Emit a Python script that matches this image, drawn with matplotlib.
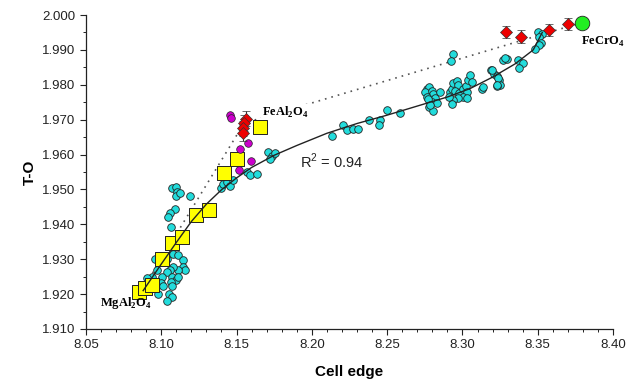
import matplotlib
matplotlib.use("Agg")
import matplotlib.pyplot as plt
from matplotlib.ticker import MultipleLocator, FormatStrFormatter

# cyan circles (natural spinels)
cyan_x = [8.1069, 8.1098, 8.1107, 8.1098, 8.1125, 8.1191,
          8.1092, 8.1058, 8.1047, 8.1063,
          8.0959, 8.1036, 8.1076, 8.1114, 8.1142, 8.1142, 8.1158, 8.1114,
          8.1080, 8.1058, 8.1036, 8.1003, 8.1069, 8.1098, 8.1114, 8.1063,
          8.0970, 8.0937, 8.0908, 8.0948, 8.0921, 8.0996, 8.1014, 8.1069,
          8.0981, 8.1054, 8.1069, 8.1041,
          8.1395, 8.1412, 8.1435, 8.1457, 8.1479, 8.1567, 8.1589, 8.1634,
          8.1711, 8.1733, 8.1756, 8.1722,
          8.2136, 8.2205, 8.2231, 8.2271, 8.2309, 8.2382, 8.2453, 8.2444,
          8.2501, 8.2583,
          8.2762, 8.2780, 8.2751, 8.2795, 8.2806, 8.2817, 8.2795, 8.2780,
          8.2806, 8.2829, 8.2851, 8.2917, 8.2928, 8.2939, 8.2961, 8.2972,
          8.2950, 8.2979, 8.3001, 8.3023, 8.3028, 8.3006, 8.2972, 8.2939,
          8.2913, 8.2928, 8.3039, 8.3050, 8.3061, 8.3028, 8.3127, 8.3187,
          8.3209, 8.3227, 8.3240, 8.3249, 8.3227, 8.3271, 8.3298, 8.2939,
          8.2924, 8.2762, 8.2773, 8.2784,
          8.3504, 8.3526, 8.3511, 8.3519, 8.3511, 8.3482, 8.3371, 8.3404,
          8.3378, 8.3283, 8.3194, 8.3238, 8.3232, 8.3134]
cyan_y = [1.9503, 1.9506, 1.9494, 1.9481, 1.9489, 1.9480,
          1.9443, 1.9432, 1.9422, 1.9392,
          1.9300, 1.9300, 1.9315, 1.9312, 1.9298, 1.9279, 1.9269, 1.9269,
          1.9279, 1.9269, 1.9262, 1.9250, 1.9250, 1.9241, 1.9250, 1.9236,
          1.9269, 1.9250, 1.9246, 1.9233, 1.9226, 1.9231, 1.9222, 1.9222,
          1.9201, 1.9201, 1.9193, 1.9179,
          1.9505, 1.9515, 1.9522, 1.9509, 1.9526, 1.9550, 1.9541, 1.9544,
          1.9608, 1.9595, 1.9605, 1.9586,
          1.9653, 1.9685, 1.9669, 1.9673, 1.9673, 1.9699, 1.9699, 1.9685,
          1.9728, 1.9718,
          1.9789, 1.9794, 1.9780, 1.9783, 1.9773, 1.9761, 1.9751, 1.9735,
          1.9725, 1.9748, 1.9780, 1.9780, 1.9789, 1.9804, 1.9811, 1.9799,
          1.9783, 1.9777, 1.9789, 1.9796, 1.9780, 1.9765, 1.9761, 1.9756,
          1.9765, 1.9746, 1.9813, 1.9827, 1.9808, 1.9761, 1.9789, 1.9842,
          1.9832, 1.9825, 1.9813, 1.9799, 1.9796, 1.9870, 1.9875, 1.9888,
          1.9868, 1.9766, 1.9758, 1.9742,
          1.9952, 1.9947, 1.9936, 1.9921, 1.9914, 1.9902, 1.9871, 1.9862,
          1.9847, 1.9876, 1.9842, 1.9819, 1.9800, 1.9793]

# yellow squares (MgAl2O4 - FeAl2O4 synthetic series)
sq_x = [8.0854, 8.0890, 8.0938, 8.1003, 8.1072, 8.1138, 8.1228, 8.1319,
        8.1415, 8.1501, 8.1656]
sq_y = [1.9205, 1.9218, 1.9226, 1.9302, 1.9347, 1.9364, 1.9426, 1.9441,
        1.9548, 1.9586, 1.9680]

# magenta circles
mag_x = [8.1455, 8.1465, 8.1578, 8.1523, 8.1596, 8.1516]
mag_y = [1.9712, 1.9704, 1.9634, 1.9615, 1.9581, 1.9556]

# red diamonds with error bars
red_x = [8.1563, 8.1552, 8.1545, 8.1540, 8.3289, 8.3389, 8.3575, 8.3701]
red_y = [1.9703, 1.9690, 1.9675, 1.9662, 1.9951, 1.9938, 1.9957, 1.9974]
red_err = [0.0022, 0.0022, 0.0022, 0.0022, 0.0018, 0.0018, 0.0018, 0.0018]

# FeCrO4 end member
green_x = [8.3794]
green_y = [1.9978]

# dotted join MgAl2O4 - FeAl2O4 - FeCrO4
dot_x = [8.085, 8.155, 8.379]
dot_y = [1.9195, 1.9690, 1.9978]

# trend curve
fit_x = [8.088, 8.100, 8.110, 8.120, 8.130, 8.140, 8.150, 8.160, 8.175,
         8.190, 8.210, 8.230, 8.250, 8.270, 8.290, 8.305, 8.320, 8.335,
         8.347, 8.353]
fit_y = [1.9210, 1.9286, 1.9348, 1.9408, 1.9458, 1.9499, 1.9533, 1.9563,
         1.9598, 1.9626, 1.9661, 1.9689, 1.9713, 1.9739, 1.9765, 1.9789,
         1.9822, 1.9860, 1.9900, 1.9950]

plt.rcParams['font.family'] = ['Liberation Sans', 'DejaVu Sans']

fig = plt.figure(figsize=(6.32, 3.85), dpi=100)
ax = fig.add_axes([0.136, 0.1455, 0.834, 0.8155])

ax.plot(dot_x, dot_y, color='#555555', lw=1.2, ls=(0, (1, 3)), zorder=1)
ax.scatter(cyan_x, cyan_y, s=30, c='#22dcdc', edgecolors='#222222',
           linewidths=0.6, zorder=2)
ax.scatter(sq_x, sq_y, s=90, marker='s', c='#ffff00', edgecolors='#222222',
           linewidths=0.7, zorder=3)
ax.scatter(mag_x, mag_y, s=30, c='#cc00cc', edgecolors='#222222',
           linewidths=0.5, zorder=3)
ax.plot(fit_x, fit_y, color='#222222', lw=1.0, zorder=4)
ax.errorbar(red_x, red_y, yerr=red_err, fmt='D', ms=6.5, mfc='#ee0000',
            mec='#333333', mew=0.5, ecolor='#333333', elinewidth=0.8,
            capsize=3, capthick=0.8, zorder=5)
ax.scatter(green_x, green_y, s=110, c='#22ee22', edgecolors='#222222',
           linewidths=0.6, zorder=5)

serif = dict(family=['Liberation Serif', 'DejaVu Serif'], weight='bold',
             fontsize=9)
ax.text(8.167, 1.9722, 'FeAl$_\\mathregular{2}$O$_\\mathregular{4}$',
        va='center', ha='left', zorder=6,
        bbox=dict(facecolor='white', edgecolor='none', pad=0.5), **serif)
ax.text(8.0593, 1.9175, 'MgAl$_\\mathregular{2}$O$_\\mathregular{4}$',
        va='center', ha='left', zorder=6, **serif)
ax.text(8.3790, 1.9922, 'FeCrO$_\\mathregular{4}$', va='center', ha='left',
        zorder=6, **serif)
ax.text(8.192, 1.958, 'R$^\\mathregular{2}$ = 0.94', fontsize=10.5,
        va='center', ha='left', color='#222222')

ax.set_xlim(8.05, 8.40)
ax.set_ylim(1.910, 2.000)
ax.xaxis.set_major_locator(MultipleLocator(0.05))
ax.xaxis.set_minor_locator(MultipleLocator(0.01))
ax.yaxis.set_major_locator(MultipleLocator(0.01))
ax.yaxis.set_minor_locator(MultipleLocator(0.005))
ax.xaxis.set_major_formatter(FormatStrFormatter('%.2f'))
ax.yaxis.set_major_formatter(FormatStrFormatter('%.3f'))
ax.tick_params(which='major', direction='out', length=4, width=0.8,
               labelsize=9.5, colors='#222222')
ax.tick_params(which='minor', direction='out', length=2.5, width=0.7,
               colors='#222222')
ax.spines['top'].set_visible(False)
ax.spines['right'].set_visible(False)
for s in ('left', 'bottom'):
    ax.spines[s].set_linewidth(0.9)
    ax.spines[s].set_color('#222222')

ax.set_xlabel('Cell edge', fontsize=11, fontweight='bold', labelpad=10)
ax.set_ylabel('T-O', fontsize=11, fontweight='bold', labelpad=4)

fig.savefig('out.png', dpi=100)
